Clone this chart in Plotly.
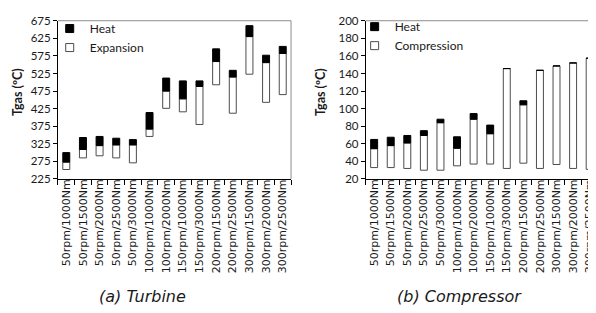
import plotly.graph_objects as go

categories = ['50rpm/1000Nm', '50rpm/1500Nm', '50rpm/2000Nm', '50rpm/2500Nm', '50rpm/3000Nm',
              '100rpm/1000Nm', '100rpm/2000Nm', '150rpm/1000Nm', '150rpm/3000Nm', '200rpm/1500Nm',
              '200rpm/2500Nm', '300rpm/1500Nm', '300rpm/2000Nm', '300rpm/2500Nm']

# Turbine (a): expansion from low to mid, heat from mid to high
turbine_low = [252, 285, 291, 285, 271, 346, 426, 416, 380, 493, 412, 523, 443, 465]
turbine_mid = [273, 309, 320, 322, 322, 367, 475, 453, 488, 559, 515, 630, 556, 582]
turbine_high = [300, 343, 346, 341, 337, 414, 512, 504, 504, 595, 534, 661, 577, 602]

# Compressor (b): compression from low to mid, heat from mid to high
compressor_low = [33, 33, 32, 30, 30, 35, 37, 37, 32, 38, 32, 36.5, 32, 31]
compressor_mid = [54.5, 58, 61, 69.5, 84, 55, 88, 71.5, 145.6, 104.4, 143.6, 148.6, 152, 157.4]
compressor_high = [65, 67.5, 69.5, 75, 88, 68, 94.4, 81.3, 145.6, 109, 143.6, 148.6, 152, 157.4]

# the page body keeps an 8 px margin, so the figure is made 8 px smaller
OFF = 8
W, H = 596 - OFF, 313 - OFF
TXT = '#1a1a1a'
OUT = '#4d4d4d'
BW = 0.42

def px_x(p):
    return (p - OFF) / W

def px_y(p):
    return 1 - (p - OFF) / H

fig = go.Figure()

def add_panel(low, mid, high, xa, ya, legend, white_name):
    fig.add_trace(go.Bar(x=categories, y=[m - l for l, m in zip(low, mid)], base=low,
                         width=BW, marker=dict(color='white', line=dict(color=OUT, width=1)),
                         xaxis=xa, yaxis=ya, showlegend=False, name=white_name))
    fig.add_trace(go.Bar(x=categories, y=[h - m for m, h in zip(mid, high)], base=mid,
                         width=BW, marker=dict(color='black', line=dict(color='black', width=1)),
                         xaxis=xa, yaxis=ya, showlegend=False, name='Heat'))
    # legend entries
    fig.add_trace(go.Scatter(x=[None], y=[None], mode='markers', name='Heat',
                             marker=dict(symbol='square', size=8, color='black',
                                         line=dict(color='black', width=1)),
                             xaxis=xa, yaxis=ya, legend=legend))
    fig.add_trace(go.Scatter(x=[None], y=[None], mode='markers', name=white_name,
                             marker=dict(symbol='square', size=8, color='white',
                                         line=dict(color=OUT, width=1)),
                             xaxis=xa, yaxis=ya, legend=legend))

add_panel(turbine_low, turbine_mid, turbine_high, 'x', 'y', 'legend', 'Expansion')
add_panel(compressor_low, compressor_mid, compressor_high, 'x2', 'y2', 'legend2', 'Compression')

ydom = [px_y(179.3), px_y(14)]
xcommon = dict(type='category', showline=True, linecolor='black', linewidth=1,
               ticks='outside', tickson='boundaries', ticklen=5, tickcolor='black',
               tickangle=-90, tickfont=dict(family='DejaVu Sans', size=11, color=TXT),
               ticklabelstandoff=-5,
               showgrid=False, zeroline=False, fixedrange=True)
ycommon = dict(showline=True, linecolor='black', linewidth=1, ticks='outside', ticklen=4,
               tickcolor='black', tickfont=dict(family='Lato', size=11.5, color=TXT),
               showgrid=False, zeroline=False)

def note(text, x, y, size, family, angle=0):
    return dict(text=text, x=px_x(x), y=px_y(y), xref='paper', yref='paper',
                xanchor='center', yanchor='middle', textangle=angle, showarrow=False,
                font=dict(family=family, size=size, color=TXT))

fig.update_layout(
    width=W, height=H, margin=dict(l=0, r=0, t=0, b=0),
    paper_bgcolor='white', plot_bgcolor='white',
    barmode='overlay', showlegend=True,
    xaxis=dict(domain=[px_x(58.3), px_x(293)], anchor='y', range=[-0.5, 13.5], **xcommon),
    yaxis=dict(domain=ydom, anchor='x', range=[225, 675], dtick=50, tick0=225, **ycommon),
    xaxis2=dict(domain=[px_x(368.3), 1.0], anchor='y2', range=[-0.5, 13.14], **xcommon),
    yaxis2=dict(domain=ydom, anchor='x2', range=[20, 200], dtick=20, tick0=20, **ycommon),
    legend=dict(x=px_x(50), y=px_y(7), xanchor='left', yanchor='top', bgcolor='rgba(0,0,0,0)',
                font=dict(family='Lato', size=12, color=TXT), itemwidth=30),
    legend2=dict(x=px_x(357), y=px_y(5), xanchor='left', yanchor='top', bgcolor='rgba(0,0,0,0)',
                 font=dict(family='Lato', size=12, color=TXT), itemwidth=30),
    shapes=[
        dict(type='line', xref='x domain', yref='y domain', x0=0, x1=1, y0=1, y1=1,
             line=dict(color='#8c8c8c', width=1)),
        dict(type='line', xref='x domain', yref='y domain', x0=1, x1=1, y0=0, y1=1,
             line=dict(color='#8c8c8c', width=1)),
        dict(type='line', xref='x2 domain', yref='y2 domain', x0=0, x1=1, y0=1, y1=1,
             line=dict(color='#8c8c8c', width=1)),
    ],
    annotations=[
        note('<b>Tgas (ºC)</b>', 17, 88.5, 12.5, 'Lato', -90),
        note('<b>Tgas (ºC)</b>', 322, 88.5, 12.5, 'Lato', -90),
        note('<i>(a) Turbine</i>', 143, 302, 16, 'DejaVu Sans'),
        note('<i>(b) Compressor</i>', 463, 302, 16, 'DejaVu Sans'),
    ],
)

fig.write_html('out.html')
